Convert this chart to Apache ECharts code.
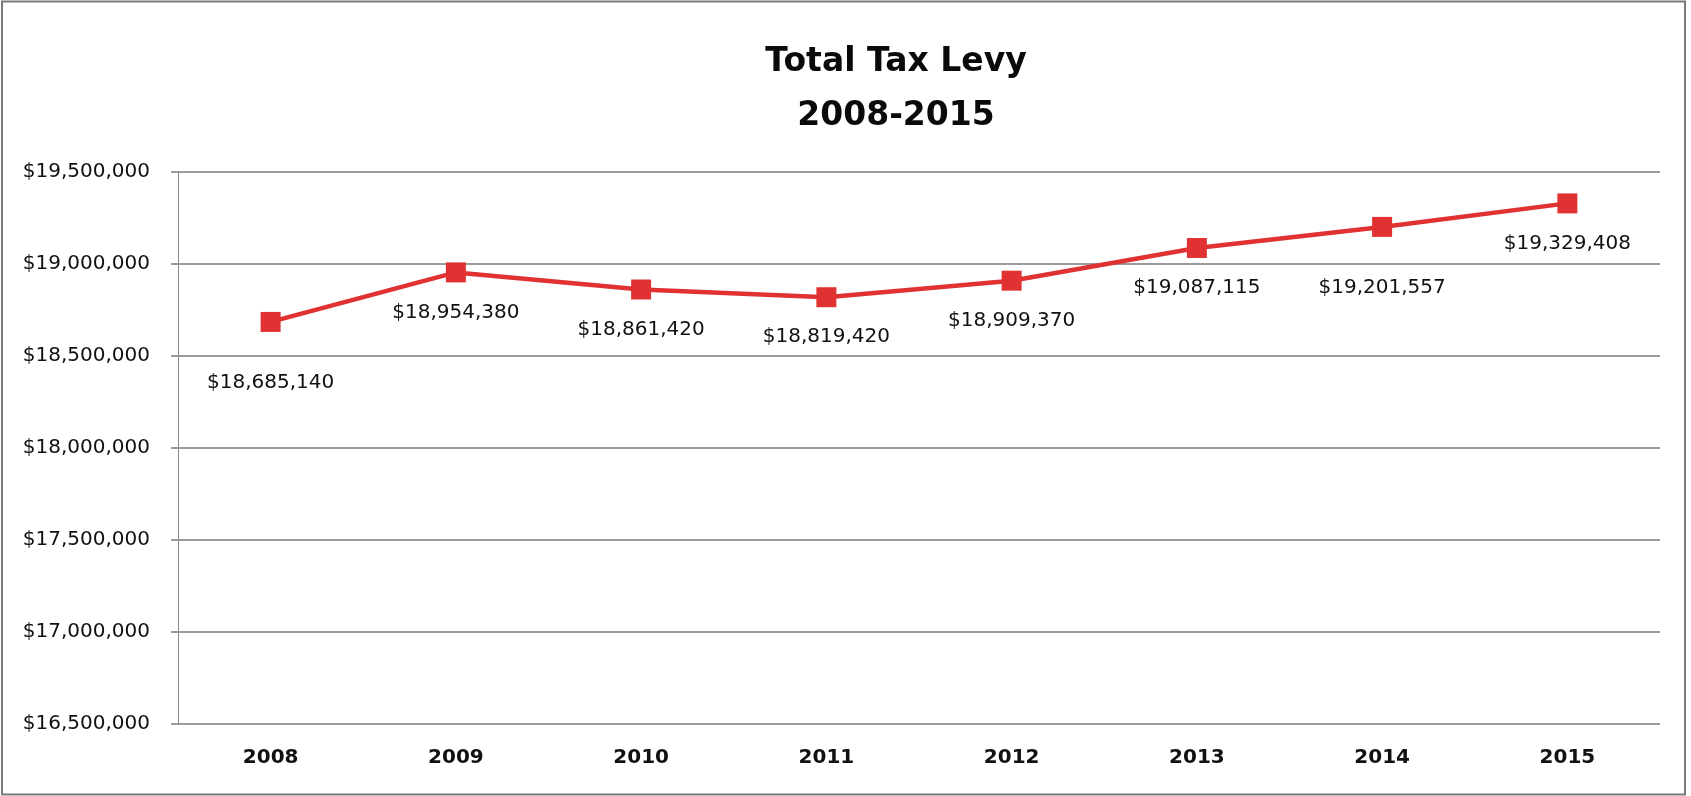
<!DOCTYPE html>
<html>
<head>
<meta charset="utf-8">
<title>Total Tax Levy 2008-2015</title>
<script src="https://cdn.jsdelivr.net/npm/echarts@6/dist/echarts.min.js"></script>
<style>
  html, body { margin: 0; padding: 0; background: #ffffff; }
  #chart { width: 1691px; height: 796px; }
</style>
</head>
<body>
<div id="chart"></div>
<script>
// Annual total tax levy, 2008-2015
const years = ['2008', '2009', '2010', '2011', '2012', '2013', '2014', '2015'];
const levy = [18685140, 18954380, 18861420, 18819420, 18909370, 19087115, 19201557, 19329408];
const yTicks = [16500000, 17000000, 17500000, 18000000, 18500000, 19000000, 19500000];

const money = v => '$' + Math.round(v).toLocaleString('en-US');

// a couple of value labels sit further below their markers
const lowLabels = new Set(['2008', '2014']);
const seriesData = levy.map((v, i) => ({
  value: v,
  label: { distance: lowLabels.has(years[i]) ? 41 : 20 }
}));

const chart = echarts.init(document.getElementById('chart'), null, { renderer: 'canvas' });

chart.setOption({
  backgroundColor: '#ffffff',
  animation: false,
  title: {
    text: 'Total Tax Levy\n2008-2015',
    left: 891,
    textAlign: 'center',
    top: 30,
    textStyle: {
      fontFamily: 'DejaVu Sans',
      fontWeight: 'bold',
      fontSize: 33,
      lineHeight: 54,
      color: '#0a0a0a'
    }
  },
  graphic: [{
    type: 'rect',
    shape: { x: 2, y: 1.5, width: 1683, height: 793 },
    style: { fill: 'none', stroke: '#7a7a7a', lineWidth: 2 },
    silent: true,
    z: -1
  }],
  grid: { left: 178, right: 31, top: 172, bottom: 72 },
  xAxis: {
    type: 'category',
    data: years,
    boundaryGap: true,
    axisLine: { show: false },
    axisTick: { show: false },
    axisLabel: {
      margin: 24,
      fontFamily: 'DejaVu Sans',
      fontWeight: 'bold',
      fontSize: 20,
      color: '#111111'
    }
  },
  yAxis: {
    type: 'value',
    min: yTicks[0],
    max: yTicks[yTicks.length - 1],
    interval: yTicks[1] - yTicks[0],
    axisLine: { show: true, lineStyle: { color: '#8a8a8a', width: 1 } },
    axisTick: { show: true, length: 7, lineStyle: { color: '#7a7a7a', width: 1.5 } },
    axisLabel: {
      margin: 28,
      formatter: money,
      fontFamily: 'DejaVu Sans',
      fontSize: 20,
      color: '#111111'
    },
    splitLine: { show: true, lineStyle: { color: '#7a7a7a', width: 1.5 } }
  },
  series: [{
    type: 'line',
    data: seriesData,
    symbol: 'rect',
    symbolSize: 20,
    lineStyle: { color: '#e03232', width: 4.5 },
    itemStyle: { color: '#e03232' },
    label: {
      show: true,
      position: 'bottom',
      formatter: p => money(p.value),
      fontFamily: 'DejaVu Sans',
      fontSize: 20,
      color: '#111111'
    }
  }]
});
</script>
</body>
</html>
